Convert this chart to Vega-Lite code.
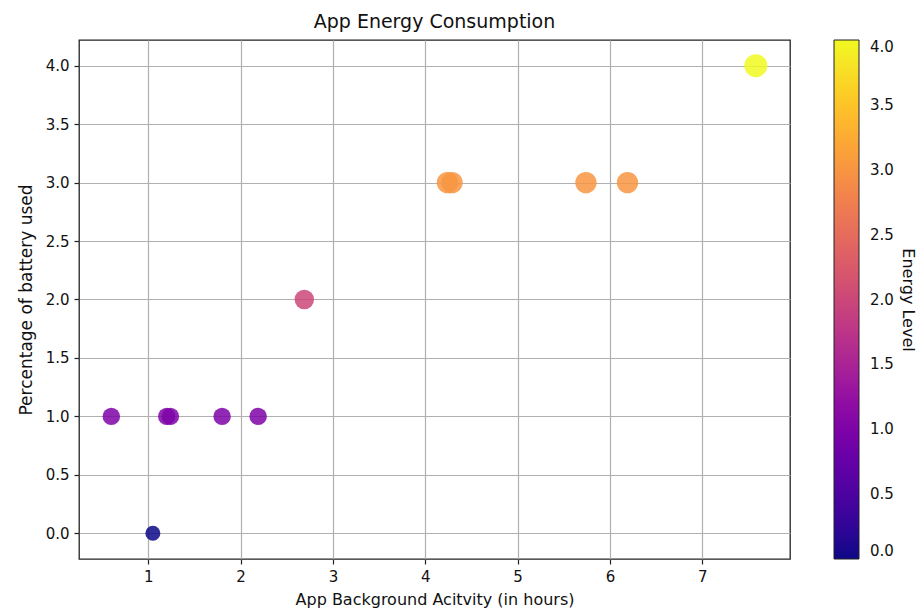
{
  "$schema": "https://vega.github.io/schema/vega-lite/v6.json",
  "autosize": {"type": "none"},
  "padding": {"left": 79, "top": 40, "right": 128, "bottom": 51},
  "width": 711,
  "height": 519,
  "background": "white",
  "title": {"text": "App Energy Consumption", "fontSize": 19, "fontWeight": "normal", "font": "DejaVu Sans", "color": "#111", "offset": 8},
  "data": {
    "values": [
      {"activity": 0.6, "battery": 1, "energy": 1},
      {"activity": 1.05, "battery": 0, "energy": 0},
      {"activity": 1.2, "battery": 1, "energy": 1},
      {"activity": 1.24, "battery": 1, "energy": 1},
      {"activity": 1.8, "battery": 1, "energy": 1},
      {"activity": 2.19, "battery": 1, "energy": 1},
      {"activity": 2.69, "battery": 2, "energy": 2},
      {"activity": 4.24, "battery": 3, "energy": 3},
      {"activity": 4.29, "battery": 3, "energy": 3},
      {"activity": 5.74, "battery": 3, "energy": 3},
      {"activity": 6.19, "battery": 3, "energy": 3},
      {"activity": 7.58, "battery": 4, "energy": 4}
    ]
  },
  "mark": {"type": "circle", "fillOpacity": 0.85, "strokeWidth": 0},
  "encoding": {
    "x": {
      "field": "activity", "type": "quantitative",
      "scale": {"domain": [0.25, 7.95], "nice": false, "zero": false},
      "axis": {"title": "App Background Acitvity (in hours)", "values": [1, 2, 3, 4, 5, 6, 7], "format": "d", "titlePadding": 7}
    },
    "y": {
      "field": "battery", "type": "quantitative",
      "scale": {"domain": [-0.22, 4.22], "nice": false, "zero": false},
      "axis": {"title": "Percentage of battery used", "values": [0, 0.5, 1, 1.5, 2, 2.5, 3, 3.5, 4], "format": ".1f", "titlePadding": 10, "titleFontSize": 17}
    },
    "color": {
      "field": "energy", "type": "quantitative",
      "scale": {"scheme": "plasma", "domain": [0, 4]},
      "legend": {
        "type": "gradient",
        "title": "Energy Level",
        "orient": "right",
        "offset": 44,
        "gradientLength": 519,
        "gradientThickness": 25,
        "gradientStrokeColor": "#222",
        "gradientStrokeWidth": 1,
        "values": [0, 0.5, 1, 1.5, 2, 2.5, 3, 3.5, 4],
        "format": ".1f",
        "labelOffset": 11,
        "labelFontSize": 15,
        "labelColor": "#111",
        "labelFont": "DejaVu Sans",
        "labelOverlap": false,
        "titleOrient": "right",
        "titleAnchor": "middle",
        "titleFontSize": 16,
        "titleFontWeight": "normal",
        "titleFont": "DejaVu Sans",
        "titleColor": "#111",
        "titlePadding": 6
      }
    },
    "size": {
      "field": "energy", "type": "quantitative",
      "scale": {"range": [227, 531], "zero": false},
      "legend": null
    }
  },
  "config": {
    "font": "DejaVu Sans",
    "view": {"stroke": "#222", "strokeWidth": 1.3},
    "axis": {
      "domain": false,
      "grid": true,
      "gridColor": "#b0b0b0",
      "gridWidth": 1.2,
      "tickColor": "#222",
      "tickSize": 5,
      "tickWidth": 1.2,
      "labelFontSize": 15,
      "labelColor": "#111",
      "labelPadding": 5,
      "labelFont": "DejaVu Sans",
      "titleFontSize": 16,
      "titleFontWeight": "normal",
      "titleColor": "#111",
      "titleFont": "DejaVu Sans"
    }
  }
}
